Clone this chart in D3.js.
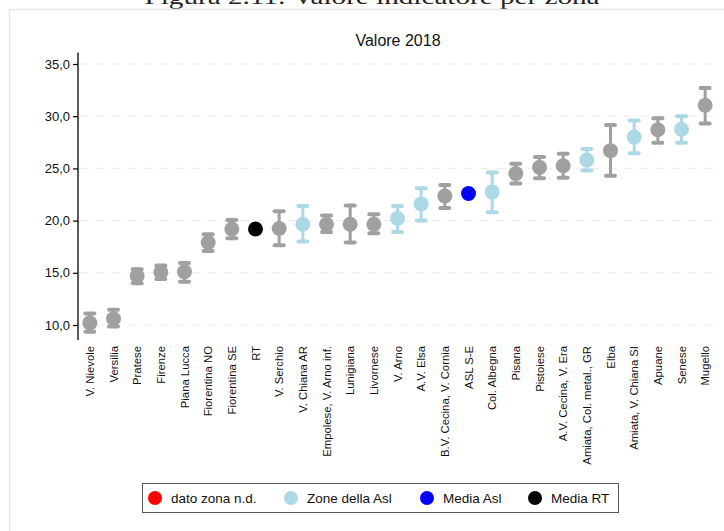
<!DOCTYPE html>
<html><head><meta charset="utf-8">
<script src="https://cdn.jsdelivr.net/npm/d3@7"></script>
<style>html,body{margin:0;padding:0;background:#fff;}svg{display:block;}</style>
</head><body>
<svg id="chart" width="724" height="531"></svg>
<script>
const categories = ["V. Nievole","Versilia","Pratese","Firenze","Piana Lucca","Fiorentina NO","Fiorentina SE","RT","V. Serchio","V. Chiana AR","Empolese, V. Arno inf.","Lunigiana","Livornese","V. Arno","A.V. Elsa","B.V. Cecina, V. Cornia","ASL S-E","Col. Albegna","Pisana","Pistoiese","A.V. Cecina, V. Era","Amiata, Col. metal., GR","Elba","Amiata, V. Chiana SI","Apuane","Senese","Mugello"];
const values = [10.2,10.6,14.7,15.05,15.1,17.9,19.2,19.2,19.25,19.65,19.65,19.65,19.65,20.2,21.6,22.35,22.6,22.75,24.5,25.1,25.25,25.8,26.7,28.0,28.7,28.75,31.05];
const lower = [9.35,9.85,14.0,14.4,14.15,17.1,18.3,null,17.65,18.0,18.9,17.9,18.8,18.9,20.0,21.2,null,20.8,23.55,24.05,24.1,24.8,24.3,26.45,27.45,27.45,29.3];
const upper = [11.1,11.45,15.35,15.7,15.95,18.7,20.05,null,20.9,21.4,20.5,21.45,20.6,21.4,23.1,23.4,null,24.6,25.45,26.1,26.4,26.85,29.15,29.6,29.8,30.0,32.7];
const groups = ["z","z","z","z","z","z","z","rt","z","asl","z","z","z","asl","asl","z","mediaAsl","asl","z","z","z","asl","z","asl","z","asl","z"];
const yTicks = [10,15,20,25,30,35];
const legendLabels = ["dato zona n.d.","Zone della Asl","Media Asl","Media RT"];
const legendColors = ["#ff0000","#add8e6","#0000ff","#000000"];
const colorMap = {z:"#a0a0a0", asl:"#add8e6", mediaAsl:"#0000ff", rt:"#000000"};

const svg = d3.select("#chart");
const font = "Liberation Sans, Arial, sans-serif";

// figure caption (cut at top, as in the reference)
svg.append("text").attr("x",372).attr("y",4).attr("text-anchor","middle")
  .attr("font-family","Liberation Serif, DejaVu Serif, serif").attr("font-size",22)
  .attr("textLength",455).attr("lengthAdjust","spacingAndGlyphs")
  .attr("fill","#222").text("Figura 2.11: Valore indicatore per zona");

// frame
svg.append("path").attr("d","M9.5,531 V9.5 H724").attr("fill","none").attr("stroke","#e4e8e8").attr("stroke-width",1.5);

const y = d3.scaleLinear().domain([10,35]).range([325,64]);
const x = d3.scaleBand().domain(categories).range([78,717]);
const cx = d => x(d) + x.bandwidth()/2;

// title
svg.append("text").attr("x",398).attr("y",46).attr("text-anchor","middle")
  .attr("font-family",font).attr("font-size",16).attr("fill","#111").text("Valore 2018");

// gridlines
svg.append("g").selectAll("line").data(yTicks).join("line")
  .attr("x1",80).attr("x2",718).attr("y1",d=>y(d)).attr("y2",d=>y(d))
  .attr("stroke","#ececec").attr("stroke-width",1).attr("stroke-dasharray","9,7");

// y axis
const yAxis = d3.axisLeft(y).tickValues(yTicks).tickSize(5).tickSizeOuter(0)
  .tickFormat(d => d3.format(".1f")(d).replace(".",","));
const ga = svg.append("g").attr("transform","translate(78,0)").call(yAxis);
ga.select(".domain").attr("d","M0,52.5V340").attr("stroke","#000").attr("stroke-width",1.3);
ga.selectAll(".tick line").attr("stroke","#000").attr("stroke-width",1.2);
ga.selectAll(".tick text").attr("font-family",font).attr("font-size",13).attr("fill","#111").attr("x",-8);

// x labels
svg.append("g").selectAll("text").data(categories).join("text")
  .attr("transform",d=>`translate(${cx(d)+4},346) rotate(-90)`)
  .attr("text-anchor","end").attr("font-family",font).attr("font-size",11.3).attr("fill","#111")
  .text(d=>d);

const data = categories.map((c,i)=>({c, v:values[i], lo:lower[i], hi:upper[i], g:groups[i]}));
const eb = data.filter(d=>d.lo!==null);
const g = svg.append("g");
g.selectAll("line.bar").data(eb).join("line").attr("class","bar")
  .attr("x1",d=>cx(d.c)).attr("x2",d=>cx(d.c)).attr("y1",d=>y(d.lo)).attr("y2",d=>y(d.hi))
  .attr("stroke",d=>colorMap[d.g]).attr("stroke-width",3);
["lo","hi"].forEach(k=>{
  g.selectAll("line.cap"+k).data(eb).join("line").attr("class","cap"+k)
    .attr("x1",d=>cx(d.c)-4.5).attr("x2",d=>cx(d.c)+4.5).attr("y1",d=>y(d[k])).attr("y2",d=>y(d[k]))
    .attr("stroke",d=>colorMap[d.g]).attr("stroke-width",4).attr("stroke-linecap","round");
});
g.selectAll("circle").data(data).join("circle")
  .attr("cx",d=>cx(d.c)).attr("cy",d=>y(d.v)).attr("r",7.5).attr("fill",d=>colorMap[d.g]);

// legend
const lg = svg.append("g");
lg.append("rect").attr("x",142.5).attr("y",483.5).attr("width",476).attr("height",29)
  .attr("fill","#fff").attr("stroke","#555").attr("stroke-width",1);
const lx = [155,291,427,535];
legendLabels.forEach((t,i)=>{
  lg.append("circle").attr("cx",lx[i]).attr("cy",498).attr("r",7).attr("fill",legendColors[i]);
  lg.append("text").attr("x",lx[i]+16).attr("y",502.5).attr("font-family",font).attr("font-size",13.5)
    .attr("fill","#111").text(t);
});
</script>
</body></html>
